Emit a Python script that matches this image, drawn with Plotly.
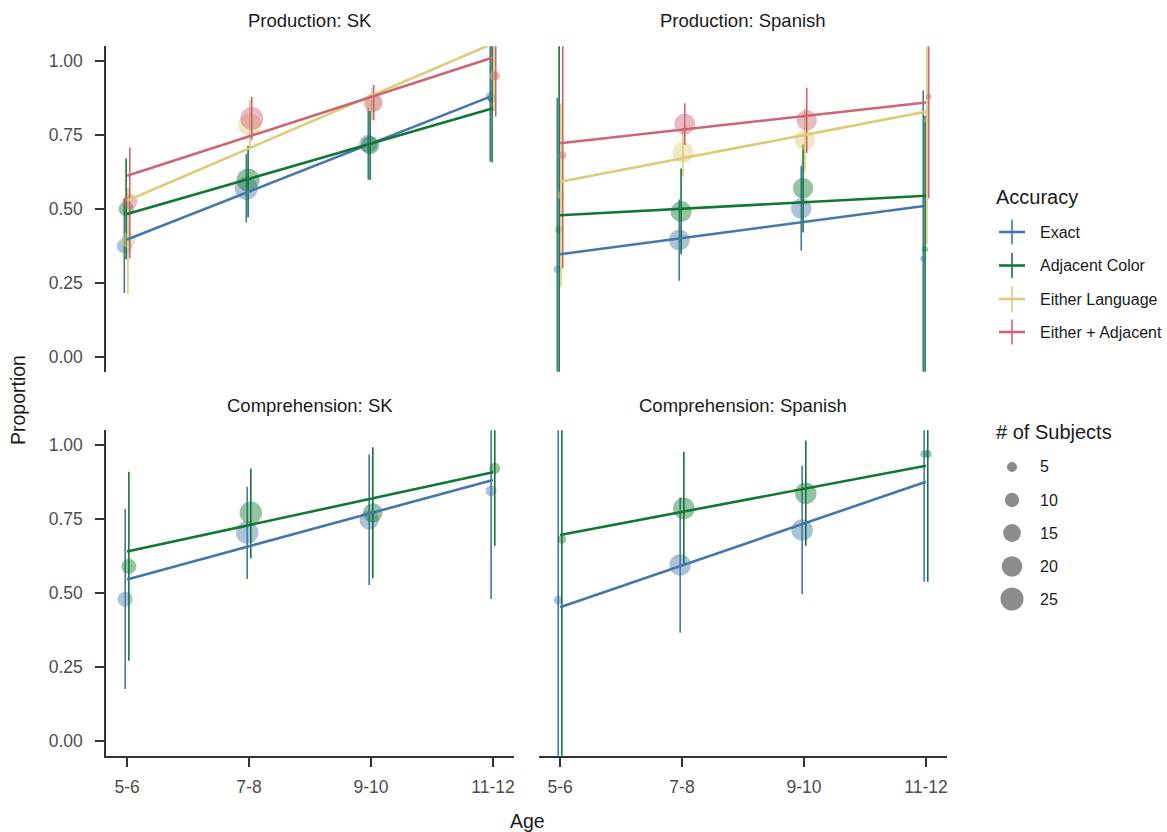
import plotly.graph_objects as go
import numpy as np

# ---------------- data ----------------
ages = ["5-6", "7-8", "9-10", "11-12"]
accuracy = ["Exact", "Adjacent Color", "Either Language", "Either + Adjacent"]
panels = ["Production: SK", "Production: Spanish", "Comprehension: SK", "Comprehension: Spanish"]
size_breaks = [5, 10, 15, 20, 25]

# number of subjects per age group, per panel
n_prod_sk = [11, 25, 16, 4]
n_prod_sp = [3, 21, 20, 2]
n_comp_sk = [11, 24, 18, 6]
n_comp_sp = [4, 22, 22, 3]

# Production: SK
prod_sk_exact_mean = [0.375, 0.570, 0.720, 0.880]
prod_sk_exact_lo = [0.216, 0.454, 0.600, 0.660]
prod_sk_exact_hi = [0.535, 0.686, 0.840, 1.100]
prod_sk_adj_mean = [0.500, 0.598, 0.716, 0.874]
prod_sk_adj_lo = [0.330, 0.472, 0.598, 0.658]
prod_sk_adj_hi = [0.671, 0.713, 0.831, 1.090]
prod_sk_lang_mean = [0.395, 0.784, 0.859, 0.950]
prod_sk_lang_lo = [0.213, 0.700, 0.800, 0.830]
prod_sk_lang_hi = [0.570, 0.870, 0.910, 1.070]
prod_sk_both_mean = [0.525, 0.806, 0.859, 0.950]
prod_sk_both_lo = [0.334, 0.733, 0.800, 0.812]
prod_sk_both_hi = [0.708, 0.879, 0.919, 1.090]
prod_sk_fit = {"Exact": [0.397, 0.883], "Adjacent Color": [0.483, 0.840],
               "Either Language": [0.528, 1.059], "Either + Adjacent": [0.612, 1.012]}

# Production: Spanish
prod_sp_exact_mean = [0.296, 0.395, 0.502, 0.333]
prod_sp_exact_lo = [-0.280, 0.258, 0.359, -0.230]
prod_sp_exact_hi = [0.876, 0.532, 0.646, 0.900]
prod_sp_adj_mean = [0.431, 0.491, 0.570, 0.364]
prod_sp_adj_lo = [-0.220, 0.347, 0.421, -0.090]
prod_sp_adj_hi = [1.080, 0.637, 0.718, 0.815]
prod_sp_lang_mean = [0.547, 0.691, 0.733, 0.800]
prod_sp_lang_lo = [0.237, 0.609, 0.626, 0.381]
prod_sp_lang_hi = [0.857, 0.773, 0.840, 1.220]
prod_sp_both_mean = [0.682, 0.787, 0.800, 0.879]
prod_sp_both_lo = [0.300, 0.717, 0.688, 0.536]
prod_sp_both_hi = [1.060, 0.857, 0.910, 1.220]
prod_sp_fit = {"Exact": [0.347, 0.511], "Adjacent Color": [0.479, 0.545],
               "Either Language": [0.592, 0.829], "Either + Adjacent": [0.722, 0.860]}

# Comprehension: SK
comp_sk_exact_mean = [0.479, 0.704, 0.747, 0.845]
comp_sk_exact_lo = [0.176, 0.547, 0.527, 0.480]
comp_sk_exact_hi = [0.784, 0.859, 0.968, 1.210]
comp_sk_adj_mean = [0.590, 0.771, 0.771, 0.921]
comp_sk_adj_lo = [0.271, 0.617, 0.550, 0.660]
comp_sk_adj_hi = [0.910, 0.921, 0.992, 1.180]
comp_sk_fit = {"Exact": [0.546, 0.882], "Adjacent Color": [0.640, 0.908]}

# Comprehension: Spanish
comp_sp_exact_mean = [0.476, 0.595, 0.713, 0.970]
comp_sp_exact_lo = [-0.300, 0.366, 0.496, 0.538]
comp_sp_exact_hi = [1.250, 0.823, 0.930, 1.400]
comp_sp_adj_mean = [0.681, 0.786, 0.837, 0.970]
comp_sp_adj_lo = [-0.100, 0.595, 0.660, 0.538]
comp_sp_adj_hi = [1.460, 0.977, 1.015, 1.400]
comp_sp_fit = {"Exact": [0.452, 0.876], "Adjacent Color": [0.696, 0.930]}

# ---------------- assembly ----------------
panel_data = [
    (n_prod_sk, {"Exact": (prod_sk_exact_mean, prod_sk_exact_lo, prod_sk_exact_hi),
                 "Adjacent Color": (prod_sk_adj_mean, prod_sk_adj_lo, prod_sk_adj_hi),
                 "Either Language": (prod_sk_lang_mean, prod_sk_lang_lo, prod_sk_lang_hi),
                 "Either + Adjacent": (prod_sk_both_mean, prod_sk_both_lo, prod_sk_both_hi)}, prod_sk_fit),
    (n_prod_sp, {"Exact": (prod_sp_exact_mean, prod_sp_exact_lo, prod_sp_exact_hi),
                 "Adjacent Color": (prod_sp_adj_mean, prod_sp_adj_lo, prod_sp_adj_hi),
                 "Either Language": (prod_sp_lang_mean, prod_sp_lang_lo, prod_sp_lang_hi),
                 "Either + Adjacent": (prod_sp_both_mean, prod_sp_both_lo, prod_sp_both_hi)}, prod_sp_fit),
    (n_comp_sk, {"Exact": (comp_sk_exact_mean, comp_sk_exact_lo, comp_sk_exact_hi),
                 "Adjacent Color": (comp_sk_adj_mean, comp_sk_adj_lo, comp_sk_adj_hi)}, comp_sk_fit),
    (n_comp_sp, {"Exact": (comp_sp_exact_mean, comp_sp_exact_lo, comp_sp_exact_hi),
                 "Adjacent Color": (comp_sp_adj_mean, comp_sp_adj_lo, comp_sp_adj_hi)}, comp_sp_fit),
]

colors = {"Exact": "#4477AA", "Adjacent Color": "#117733",
          "Either Language": "#DDCC77", "Either + Adjacent": "#CC6677"}

W, H = 1167, 832
FONT = "Liberation Sans, Arial, Helvetica, sans-serif"
DODGE = 0.06


def diam(n):
    n = np.asarray(n, dtype=float)
    return np.sqrt(np.maximum(-7 + 21.5 * n, 9))


fig = go.Figure()
xpos = np.arange(1, len(ages) + 1)

for p, (nsub, series, fits) in enumerate(panel_data):
    suffix = "" if p == 0 else str(p + 1)
    xa, ya = "x" + suffix, "y" + suffix
    k = len(series)
    for i, acc in enumerate(accuracy):
        if acc not in series:
            continue
        mean, lo, hi = (np.array(v) for v in series[acc])
        off = (i - (k - 1) / 2) * DODGE / k
        fig.add_trace(go.Scatter(
            x=xpos + off, y=mean, mode="markers", xaxis=xa, yaxis=ya,
            marker=dict(size=diam(nsub), color=colors[acc], opacity=0.45, line=dict(width=0)),
            error_y=dict(type="data", symmetric=False, array=hi - mean, arrayminus=mean - lo,
                         color=colors[acc], thickness=1.6, width=0),
            showlegend=False, hoverinfo="skip"))
    for i, acc in enumerate(accuracy):
        if acc not in fits:
            continue
        fig.add_trace(go.Scatter(
            x=[xpos[0], xpos[-1]], y=fits[acc], mode="lines", xaxis=xa, yaxis=ya,
            line=dict(color=colors[acc], width=2.6), showlegend=False, hoverinfo="skip"))

# ---------------- layout ----------------
xdom = [[106.3 / W, 513.7 / W], [539.3 / W, 946.7 / W]]
ydom = [[1 - 371.8 / H, 1 - 46.2 / H], [1 - 755.8 / H, 1 - 430.2 / H]]
AX = "#333333"
TICKF = dict(family=FONT, size=17.5, color="#4d4d4d")

layout = dict(width=W, height=H, margin=dict(l=0, r=0, t=0, b=0),
              paper_bgcolor="white", plot_bgcolor="white", showlegend=False,
              font=dict(family=FONT))

for p in range(4):
    row, col = divmod(p, 2)
    suffix = "" if p == 0 else str(p + 1)
    xk, yk = "xaxis" + suffix, "yaxis" + suffix
    bottom = row == 1
    left = col == 0
    layout[xk] = dict(domain=xdom[col], range=[0.83, 4.17], anchor="y" + suffix,
                      showgrid=False, zeroline=False, fixedrange=True,
                      showline=bottom, linecolor=AX, linewidth=2,
                      ticks="outside" if bottom else "", ticklen=9, tickwidth=2, tickcolor=AX,
                      tickvals=list(xpos), ticktext=ages, showticklabels=bottom, tickfont=TICKF,
                      ticklabelstandoff=5)
    layout[yk] = dict(domain=ydom[row], range=[-0.05, 1.05], anchor="x" + suffix,
                      showgrid=False, zeroline=False, fixedrange=True,
                      showline=left, linecolor=AX, linewidth=2,
                      ticks="outside" if left else "", ticklen=9, tickwidth=2, tickcolor=AX,
                      tickvals=[0, 0.25, 0.5, 0.75, 1.0],
                      ticktext=["0.00", "0.25", "0.50", "0.75", "1.00"],
                      showticklabels=left, tickfont=TICKF, ticklabelstandoff=9)

fig.update_layout(**layout)

annotations = []
shapes = []


def ax_(px):
    return px / W


def ay_(py):
    return 1 - py / H


TXT = "#1a1a1a"

# facet titles
for p, title in enumerate(panels):
    row, col = divmod(p, 2)
    cx = (xdom[col][0] + xdom[col][1]) / 2
    ty = 21 if row == 0 else 406
    annotations.append(dict(text=title, x=cx, y=ay_(ty), xref="paper", yref="paper",
                            xanchor="center", yanchor="middle", showarrow=False,
                            font=dict(family=FONT, size=18.5, color=TXT)))

# axis titles
annotations.append(dict(text="Proportion", x=ax_(18), y=ay_(400), xref="paper", yref="paper",
                        textangle=-90, xanchor="center", yanchor="middle", showarrow=False,
                        font=dict(family=FONT, size=19.5, color=TXT)))
annotations.append(dict(text="Age", x=ax_(527), y=ay_(821), xref="paper", yref="paper",
                        xanchor="center", yanchor="middle", showarrow=False,
                        font=dict(family=FONT, size=19.5, color=TXT)))

# Accuracy legend
annotations.append(dict(text="Accuracy", x=ax_(994), y=ay_(197), xref="paper", yref="paper",
                        xanchor="left", yanchor="middle", showarrow=False,
                        font=dict(family=FONT, size=20, color=TXT)))
leg_y = [232, 265.5, 299, 332]
for acc, ly in zip(accuracy, leg_y):
    c = colors[acc]
    shapes.append(dict(type="line", xref="paper", yref="paper",
                       x0=ax_(999), x1=ax_(1025), y0=ay_(ly), y1=ay_(ly),
                       line=dict(color=c, width=2.6)))
    shapes.append(dict(type="line", xref="paper", yref="paper",
                       x0=ax_(1012), x1=ax_(1012), y0=ay_(ly - 12.5), y1=ay_(ly + 12.5),
                       line=dict(color=c, width=1.6)))
    annotations.append(dict(text=acc, x=ax_(1038), y=ay_(ly), xref="paper", yref="paper",
                            xanchor="left", yanchor="middle", showarrow=False,
                            font=dict(family=FONT, size=16, color=TXT)))

# size legend
annotations.append(dict(text="# of Subjects", x=ax_(994), y=ay_(432), xref="paper", yref="paper",
                        xanchor="left", yanchor="middle", showarrow=False,
                        font=dict(family=FONT, size=20, color=TXT)))
size_y = [467, 500, 533, 566.5, 599]
for nb, sy in zip(size_breaks, size_y):
    r = float(diam(nb)) / 2
    shapes.append(dict(type="circle", xref="paper", yref="paper",
                       xsizemode="pixel", ysizemode="pixel",
                       xanchor=ax_(1012), yanchor=ay_(sy),
                       x0=-r, x1=r, y0=-r, y1=r,
                       fillcolor="rgba(0,0,0,0.45)", line=dict(width=0)))
    annotations.append(dict(text=str(nb), x=ax_(1038), y=ay_(sy), xref="paper", yref="paper",
                            xanchor="left", yanchor="middle", showarrow=False,
                            font=dict(family=FONT, size=16, color=TXT)))

fig.update_layout(annotations=annotations, shapes=shapes)
fig.write_html("out.html")
